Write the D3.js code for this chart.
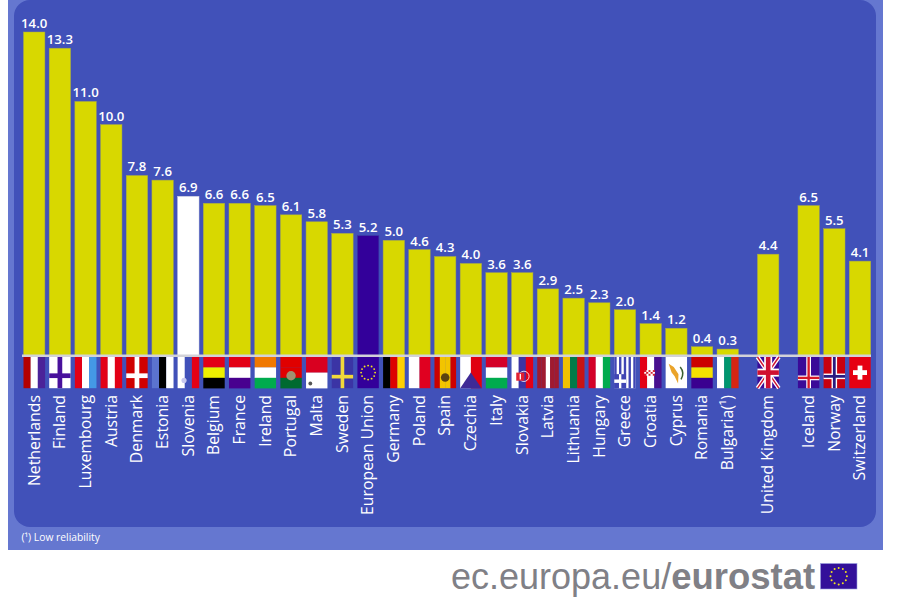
<!DOCTYPE html>
<html><head><meta charset="utf-8">
<script src="https://cdn.jsdelivr.net/npm/d3@7"></script>
<style>html,body{margin:0;padding:0;background:#fff}svg{display:block}</style>
</head><body><svg id="c" width="898" height="603"></svg>
<script>
const countries = ["Netherlands","Finland","Luxembourg","Austria","Denmark","Estonia","Slovenia","Belgium","France","Ireland","Portugal","Malta","Sweden","European Union","Germany","Poland","Spain","Czechia","Italy","Slovakia","Latvia","Lithuania","Hungary","Greece","Croatia","Cyprus","Romania","Bulgaria(¹)","United Kingdom","Iceland","Norway","Switzerland"];
const values = [14.0,13.3,11.0,10.0,7.8,7.6,6.9,6.6,6.6,6.5,6.1,5.8,5.3,5.2,5.0,4.6,4.3,4.0,3.6,3.6,2.9,2.5,2.3,2.0,1.4,1.2,0.4,0.3,4.4,6.5,5.5,4.1];
const groups = [0,0,0,0,0,0,0,0,0,0,0,0,0,0,0,0,0,0,0,0,0,0,0,0,0,0,0,0,1,2,2,2];
const footnote = "(¹) Low reliability";
const siteLight = "ec.europa.eu/", siteBold = "eurostat";

const C={outer:"#6577d0",inner:"#4151b9",bar:"#d8d800",barEdge:"#a6a84a",eu:"#33009a",si:"#ffffff",axis:"#d2d2d8",
 red:"#e30016",dred:"#c00000",pur:"#48108f",blu:"#3b34a5",wht:"#ffffff",blk:"#000000",yel:"#f5e600",grn:"#00ab4e",org:"#f07800"};
const svg=d3.select("#c");
const slot=(i)=>i+groups[i]*0.575;
const x=d3.scaleLinear().domain([0,slot(31)]).range([34.2,860]);
const y=d3.scaleLinear().domain([0,14]).range([356,32]);
const bw=21.4,fy=357,fh=31.2;

svg.append("rect").attr("x",8).attr("y",0).attr("width",875).attr("height",550).attr("fill",C.outer);
{const p=d3.path(),l=14,r=876,t=0,b=527,R=16;
 p.moveTo(l+R,t);p.lineTo(r-R,t);p.arcTo(r,t,r,t+R,R);p.lineTo(r,b-R);p.arcTo(r,b,r-R,b,R);p.lineTo(l+R,b);p.arcTo(l,b,l,b-R,R);p.lineTo(l,t+R);p.arcTo(l,t,l+R,t,R);p.closePath();
 svg.append("path").attr("fill",C.inner).attr("d",p.toString());}

svg.selectAll("rect.bar").data(values).join("rect").attr("class","bar")
 .attr("x",(d,i)=>x(slot(i))-bw/2).attr("width",bw)
 .attr("y",d=>y(d)).attr("height",d=>y(0)-y(d))
 .attr("fill",(d,i)=>countries[i]==="European Union"?C.eu:countries[i]==="Slovenia"?C.si:C.bar)
 .attr("stroke",(d,i)=>countries[i]==="European Union"?"#3a3aa0":countries[i]==="Slovenia"?"#d0d0e0":C.barEdge).attr("stroke-width",.5);

svg.append("line").attr("x1",22).attr("x2",871).attr("y1",355.8).attr("y2",355.8).attr("stroke",C.axis).attr("stroke-width",2.4);

svg.selectAll("text.val").data(values).join("text").attr("class","val")
 .attr("x",(d,i)=>x(slot(i))).attr("y",d=>y(d)-4).attr("text-anchor","middle")
 .attr("fill","#fff").attr("font-family","'Open Sans'").attr("font-size",13.2).attr("font-weight",600)
 .text(d=>d.toFixed(1));

svg.selectAll("text.cat").data(countries).join("text").attr("class","cat")
 .attr("transform",(d,i)=>`translate(${x(slot(i))+5.3},395) rotate(-90)`).attr("text-anchor","end")
 .attr("fill","#fff").attr("font-family","'Open Sans'").attr("font-size",15.8).text(d=>d);

const V=(...c)=>({v:c}),Hz=(...c)=>({h:c});
const flagStyles={
"Netherlands":V("#b40000",C.wht,"#4b2299"),"Finland":{bg:C.wht,cross:["#48109c"],cy:.6,t:.22},
"Luxembourg":V(C.red,C.wht,"#4498e6"),"Austria":V(C.red,C.wht,C.red),
"Denmark":{bg:"#d00000",cross:[C.wht],cy:.6,t:.22},"Estonia":V("#5b73cf",C.blk,C.wht),
"Slovenia":{v:[C.wht,C.inner,C.red],emblem:["#c8c8ee",.3,.75,.12]},
"Belgium":Hz(C.red,"#eef000",C.blk),"France":Hz(C.red,C.wht,"#48008f"),"Ireland":Hz(C.org,C.wht,C.grn),
"Portugal":{h:["#e00000","#e00000","#006a30"],emblem:["#a09070",.5,.6,.22]},
"Malta":{h:["#d90020",C.wht],emblem:["#555",.2,.85,.09]},
"Sweden":{bg:C.blu,cross:["#f2d93a"],cy:.63,t:.17},"European Union":{bg:"#33009a",stars:1},
"Germany":V(C.blk,"#dd0000","#ffd000"),"Poland":V(C.wht,"#e00020"),
"Spain":{v:["#cc0000","#f2c400","#f2c400","#cc0000"],emblem:["#5b4210",.5,.66,.2]},
"Czechia":{v:[C.wht,"#e00010"],tri:"#3f2a96"},"Italy":Hz("#d40028",C.wht,C.grn),
"Slovakia":{v:[C.wht,C.blu,C.red],shield:1},"Latvia":{v:["#a01a30","#a01a30",C.wht,"#a01a30","#a01a30"]},
"Lithuania":V("#f0c000","#007a48","#c81414"),"Hungary":V("#d40028",C.wht,C.grn),
"Greece":{greek:1},"Croatia":{v:[C.red,C.wht,"#48108f"],check:1},
"Cyprus":{cyprus:1},"Romania":Hz("#cc0000","#f5e000","#3a0090"),"Bulgaria(¹)":V(C.wht,"#00966e","#d62612"),
"United Kingdom":{uk:1},"Iceland":{bg:"#3a0a98",cross:[C.wht,"#d7182a"],cy:.67,t:.22,t2:.11},
"Norway":{bg:"#c80010",cross:[C.wht,"#2a1a80"],cy:.62,t:.26,t2:.13},"Switzerland":{bg:"#e60012",swiss:1}};

countries.forEach((name,i)=>{
 const f=flagStyles[name],X=x(slot(i))-bw/2,g=svg.append("g").attr("transform",`translate(${X},${fy})`);
 const w=bw,h=fh;
 const R=(a,b,c,d,col)=>g.append("rect").attr("x",a).attr("y",b).attr("width",c).attr("height",d).attr("fill",col);
 if(f.bg)R(0,0,w,h,f.bg);
 if(f.v)f.v.forEach((c,k)=>R(k*w/f.v.length,0,w/f.v.length+.2,h,c));
 if(f.h)f.h.forEach((c,k)=>R(0,k*h/f.h.length,w,h/f.h.length+.2,c));
 if(f.cross)f.cross.forEach((c,k)=>{const t=(k===0?f.t:f.t2)*w;R(w/2-t/2,0,t,h,c);R(0,f.cy*h-t/2,w,t,c);});
 if(f.tri)g.append("path").attr("d",`M0,${h}L${w/2},${h*.5}L${w},${h}Z`).attr("fill",f.tri);
 if(f.emblem){const[c,ex,ey,r]=f.emblem;g.append("circle").attr("cx",ex*w).attr("cy",ey*h).attr("r",r*w).attr("fill",c);}
 if(f.shield){g.append("circle").attr("cx",w*.58).attr("cy",h*.62).attr("r",w*.24).attr("fill","none").attr("stroke",C.wht).attr("stroke-width",.8);R(w*.22,h*.5,w*.38,h*.26,"#e02030");R(w*.38,h*.54,w*.06,h*.18,C.wht);}
 if(f.check){d3.range(5).forEach(a=>d3.range(3).forEach(b=>R(w*.2+a*w*.1,h*.42+b*h*.06,w*.1,h*.06,(a+b)%2?"#ffffff":"#d02030")));}
 if(f.stars){g.selectAll("circle").data(d3.range(12)).join("circle").attr("cx",k=>w/2+7*Math.cos(k*Math.PI/6)).attr("cy",k=>h/2+7*Math.sin(k*Math.PI/6)).attr("r",.95).attr("fill","#f0e020");}
 if(f.greek){R(0,0,w,h,C.wht);d3.range(5).forEach(k=>R(k*w/4.5,0,w/9,h,"#3f45b4"));R(0,h*.55,w*.55,h*.45,"#3f45b4");R(0,h*.72,w*.55,h*.11,C.wht);R(w*.22,h*.55,w*.11,h*.45,C.wht);}
 if(f.cyprus){R(0,0,w,h,C.wht);g.append("path").attr("d",`M${w*.14},${h*.22}L${w*.38},${h*.32}L${w*.6},${h*.55}L${w*.58},${h*.85}L${w*.42},${h*.62}L${w*.28},${h*.5}Z`).attr("fill","#eaa42a");g.append("path").attr("d",`M${w*.68},${h*.32}Q${w*.9},${h*.5} ${w*.72},${h*.72}`).attr("stroke","#3a6030").attr("stroke-width",1.5).attr("fill","none");}
 if(f.uk){R(0,0,w,h,"#3a0a98");const L=(a,b,c,d,col,sw)=>g.append("line").attr("x1",a).attr("y1",b).attr("x2",c).attr("y2",d).attr("stroke",col).attr("stroke-width",sw);
  L(0,0,w,h,C.wht,4);L(w,0,0,h,C.wht,4);L(0,0,w,h,"#d01030",1.4);L(w,0,0,h,"#d01030",1.4);R(w/2-4,0,8,h,C.wht);R(0,h/2-4,w,8,C.wht);R(w/2-2.3,0,4.6,h,"#d01030");R(0,h/2-2.3,w,4.6,"#d01030");}
 if(f.swiss){const a=w*.5,b=h*.5;R(a-2.4,b-7,4.8,14,C.wht);R(a-7,b-2.4,14,4.8,C.wht);}
});

svg.append("text").attr("x",21.5).attr("y",541).attr("fill","#fff").attr("font-family","'Open Sans'").attr("font-size",10.3).attr("font-weight",500).text(footnote);

const site=svg.append("text").attr("x",451).attr("y",589).attr("fill","#808086").attr("font-family","'Liberation Sans'").attr("font-size",36);
site.append("tspan").text(siteLight);
site.append("tspan").attr("font-weight",700).attr("font-size",36.5).text(siteBold);

svg.append("rect").attr("x",820.5).attr("y",563.5).attr("width",36.5).attr("height",25.5).attr("fill","#33109a").attr("stroke","#9aa0e0").attr("stroke-width",.6);
svg.selectAll("circle.logo").data(d3.range(12)).join("circle").attr("class","logo")
 .attr("cx",k=>838.7+8.2*Math.cos(k*Math.PI/6)).attr("cy",k=>576.2+8.2*Math.sin(k*Math.PI/6)).attr("r",1).attr("fill","#f0e020");
</script></body></html>
